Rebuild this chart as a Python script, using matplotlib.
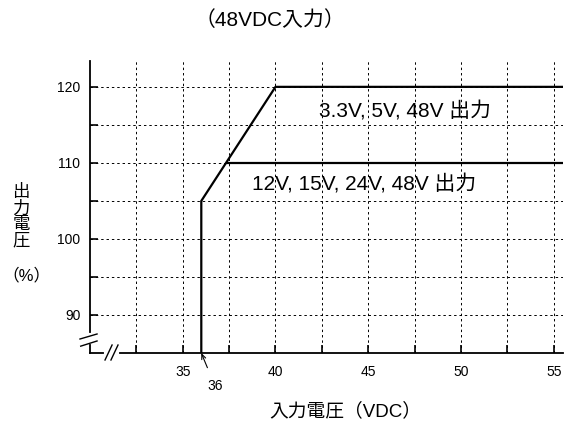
import matplotlib
matplotlib.use("Agg")
from matplotlib import pyplot as plt

plt.rcParams['font.family'] = ['Liberation Sans', 'Noto Sans CJK JP', 'DejaVu Sans']

# curve data (input VDC vs output %)
upper_x = [36, 36, 40, 55.5]
upper_y = [85, 105, 120, 120]
lower_x = [37.33, 55.5]
lower_y = [110, 110]

x_ticks = [32.5, 35, 37.5, 40, 42.5, 45, 47.5, 50, 52.5, 55]
x_labels = ['', '35', '', '40', '', '45', '', '50', '', '55']
y_ticks = [90, 95, 100, 105, 110, 115, 120]
y_labels = ['90', '', '100', '', '110', '', '120']

upper_label = "3.3V, 5V, 48V 出力"
lower_label = "12V, 15V, 24V, 48V 出力"

fig = plt.figure(figsize=(5.65, 4.21), dpi=100)
ax = fig.add_axes([90/565, 1-353/421, 473/565, 292/421])
ax.set_xlim(30, 55.5)
ax.set_ylim(85, 123.4)

ax.spines['top'].set_visible(False)
ax.spines['right'].set_visible(False)
ax.spines['left'].set_linewidth(1.3)
ax.spines['bottom'].set_linewidth(1.3)

ax.set_xticks(x_ticks)
ax.set_xticklabels(x_labels)
ax.set_yticks(y_ticks)
ax.set_yticklabels(y_labels)
ax.tick_params(direction='in', length=6, width=1.2, labelsize=10, pad=7)
ax.tick_params(axis='x', pad=9)
ax.grid(True, color='black', linestyle=(0, (2.5, 3)), linewidth=0.7)

ax.plot(upper_x, upper_y, color='black', lw=1.6, solid_capstyle='butt', clip_on=False)
ax.plot(lower_x, lower_y, color='black', lw=1.6, solid_capstyle='butt', clip_on=False)

ax.text(46.98, 116.8, upper_label, fontsize=15, ha='center', va='center')
ax.text(44.8, 107.1, lower_label, fontsize=15, ha='center', va='center')

# 36 marker
ax.annotate('36', xy=(36, 85), xytext=(36.75, 80.6), fontsize=10, ha='center', va='center',
            annotation_clip=False,
            arrowprops=dict(arrowstyle='->,head_length=0.35,head_width=0.15', color='black',
                            lw=0.8, shrinkA=7, shrinkB=0))

# axis break marks
ax.plot([30, 30], [86.45, 87.37], color='white', lw=3, clip_on=False, zorder=5)
ax.plot([29.46, 30.38], [86.84, 87.5], color='black', lw=1.0, clip_on=False, zorder=6)
ax.plot([29.5, 30.38], [85.9, 86.58], color='black', lw=1.0, clip_on=False, zorder=6)
ax.plot([30.86, 31.46], [85, 85], color='white', lw=3, clip_on=False, zorder=5)
ax.plot([30.81, 31.19], [84.08, 86.05], color='black', lw=1.0, clip_on=False, zorder=6)
ax.plot([31.13, 31.51], [84.08, 86.05], color='black', lw=1.0, clip_on=False, zorder=6)

fig.text(270/565, 1-20/421, "（48VDC入力）", fontsize=15, ha='center', va='center')
fig.text(345/565, 1-411/421, "入力電圧（VDC）", fontsize=13.5, ha='center', va='center')
fig.text(21/565, 1-216/421, "出\n力\n電\n圧", fontsize=12.5, ha='center', va='center',
         linespacing=1.05)
fig.text(26/565, 1-275/421, "（%）", fontsize=12, ha='center', va='center')

fig.savefig("out.png", dpi=100)
